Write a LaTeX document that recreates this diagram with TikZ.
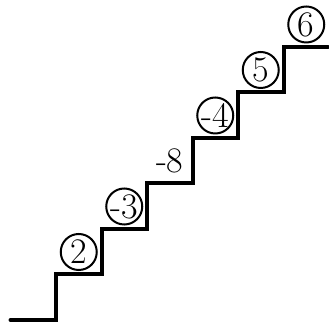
\documentclass[tikz,border=0pt]{standalone}
\begin{document}
\begin{tikzpicture}[x=1pt,y=1pt,
  stair/.style={line width=4pt, line cap=round, line join=miter},
  num/.style={circle, draw, line width=2pt, minimum size=36pt, inner sep=-1pt, font=\fontsize{36}{42}\selectfont},
  plainnum/.style={inner sep=0pt, font=\fontsize{36}{42}\selectfont}]
\useasboundingbox (0,0) rectangle (329,323);
\coordinate (start) at (10.5,3);
\coordinate (r1) at (56,3);
\coordinate (r2) at (101.5,48.5);
\coordinate (r3) at (147,94);
\coordinate (r4) at (192.5,139.5);
\coordinate (r5) at (238,185);
\coordinate (r6) at (283.5,230.5);
\coordinate (r7) at (328,276);
\draw[stair] (start) -- (r1) |- (r2) |- (r3) |- (r4) |- (r5) |- (r6) |- (r7);
\node[num] (n1) at (78.75,71) {2};
\node[num] (n2) at (124.25,116.5) {-3};
\node[plainnum] (n3) at (169.75,162) {-8};
\node[num] (n4) at (215.25,207.5) {-4};
\node[num] (n5) at (260.75,253) {5};
\node[num] (n6) at (306.25,298.5) {6};
\end{tikzpicture}
\end{document}
